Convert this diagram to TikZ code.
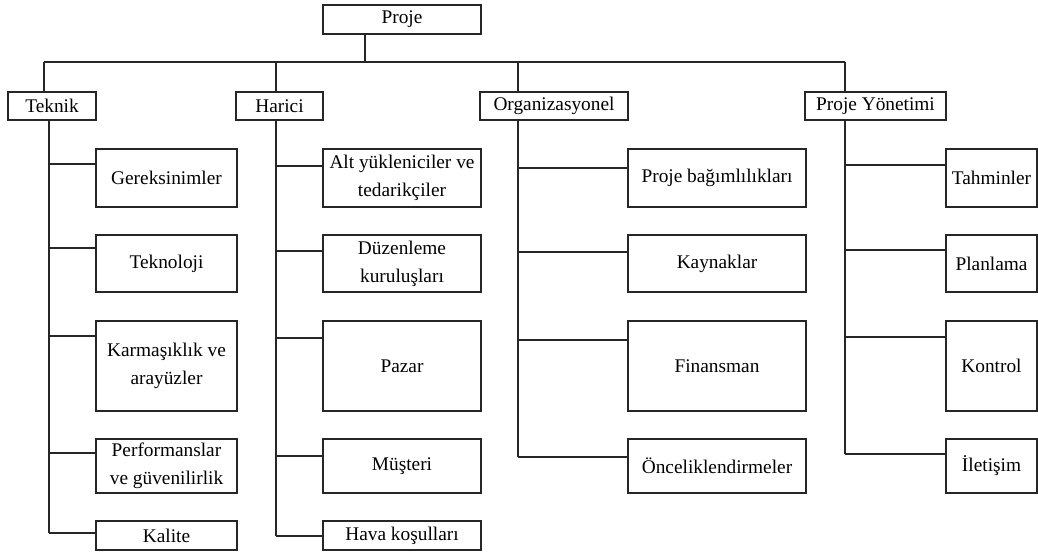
\documentclass[tikz,border=0pt]{standalone}
\usepackage{fontspec}
\setmainfont{Liberation Serif}
\begin{document}
\begin{tikzpicture}[x=0.75pt,y=-0.75pt,
  box/.style={draw=black!85, line width=1pt, inner sep=0pt, outer sep=0pt,
    align=center, text=black, font=\fontsize{14.5}{21}\selectfont},
  wh/.style 2 args={minimum width=#1*0.75pt, minimum height=#2*0.75pt},
  conn/.style={draw=black!85, line width=0.9pt}]
\useasboundingbox (0,0) rectangle (1038,553);

% root and the four groups
\node[box, wh={158}{29}] (proje)  at (402,19.5)  {Proje};
\node[box, wh={88}{28}]  (teknik) at (52,106)    {Teknik};
\node[box, wh={87}{28}]  (harici) at (279.5,106) {Harici};
\node[box, wh={148}{28}] (org)    at (554,106)   {Organizasyonel};
\node[box, wh={141}{28}] (py)     at (875.5,106) {Proje Yönetimi};

% Teknik
\node[box, wh={141}{58}] (gerek)  at (166.5,178)   {Gereksinimler};
\node[box, wh={141}{57}] (tekno)  at (166.5,263.5) {Teknoloji};
\node[box, wh={141}{90}] (karm)   at (166.5,366)   {Karmaşıklık ve\\arayüzler};
\node[box, wh={141}{54}] (perf)   at (166.5,466)   {Performanslar\\ve güvenilirlik};
\node[box, wh={141}{29}] (kalite) at (166.5,535.5) {Kalite};

% Harici
\node[box, wh={158}{58}] (alt)   at (402,178)   {Alt yükleniciler ve\\tedarikçiler};
\node[box, wh={158}{57}] (duz)   at (402,263.5) {Düzenleme\\kuruluşları};
\node[box, wh={158}{90}] (pazar) at (402,366)   {Pazar};
\node[box, wh={158}{54}] (must)  at (402,466)   {Müşteri};
\node[box, wh={158}{29}] (hava)  at (402,535.5) {Hava koşulları};

% Organizasyonel
\node[box, wh={178}{58}] (bag)  at (717,178)   {Proje bağımlılıkları};
\node[box, wh={178}{57}] (kay)  at (717,263.5) {Kaynaklar};
\node[box, wh={178}{90}] (fin)  at (717,366)   {Finansman};
\node[box, wh={178}{54}] (once) at (717,466)   {Önceliklendirmeler};

% Proje Yönetimi
\node[box, wh={91}{58}] (tah)  at (991.5,178)   {Tahminler};
\node[box, wh={91}{57}] (plan) at (991.5,263.5) {Planlama};
\node[box, wh={91}{90}] (kont) at (991.5,366)   {Kontrol};
\node[box, wh={91}{54}] (ilet) at (991.5,466)   {İletişim};

% bus from the root to the groups
\coordinate (busL) at (44,62);
\coordinate (busR) at (845,62);
\coordinate (stem) at (365,62);
\draw[conn] (busL) -- (busR);
\draw[conn] (stem |- proje.south) -- (stem);
\foreach \h/\x in {teknik/44, harici/276, org/518, py/845}
  \draw[conn] (\x,62) -- (\x,0 |- \h.north);

% group spines
\draw[conn] (49,0 |- teknik.south) -- (49,533);
\draw[conn] (276,0 |- harici.south) -- (276,536);
\draw[conn] (518,0 |- org.south) -- (518,457);
\draw[conn] (845,0 |- py.south) -- (845,454);

% branches into the boxes
\foreach \n/\yy in {gerek/164, tekno/248, karm/336, perf/453, kalite/533}
  \draw[conn] (49,\yy) -- (\n.west |- 0,\yy);
\foreach \n/\yy in {alt/166, duz/251, pazar/338, must/456, hava/536}
  \draw[conn] (276,\yy) -- (\n.west |- 0,\yy);
\foreach \n/\yy in {bag/168, kay/252, fin/340, once/457}
  \draw[conn] (518,\yy) -- (\n.west |- 0,\yy);
\foreach \n/\yy in {tah/165, plan/250, kont/337, ilet/454}
  \draw[conn] (845,\yy) -- (\n.west |- 0,\yy);
\end{tikzpicture}
\end{document}
